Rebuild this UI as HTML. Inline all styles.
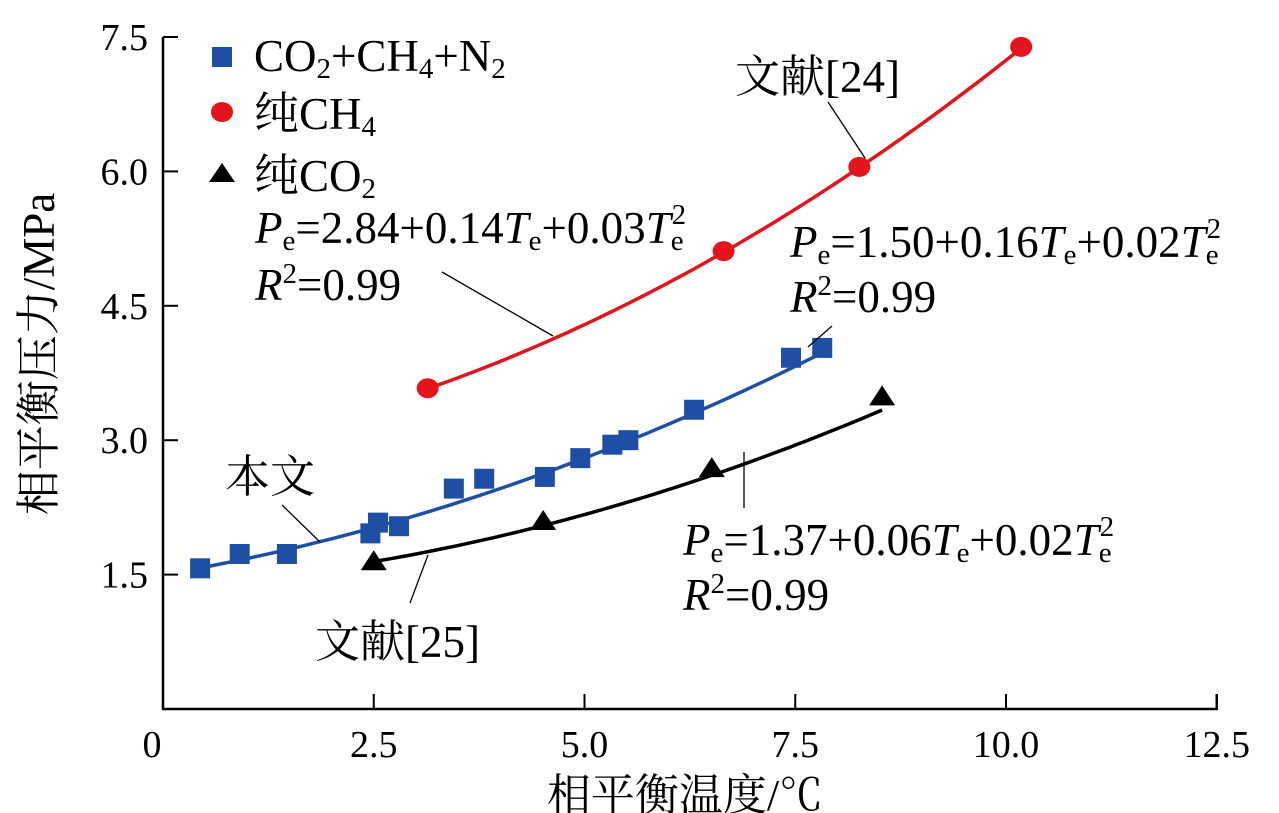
<!DOCTYPE html>
<html><head><meta charset="utf-8"><style>
html,body{margin:0;padding:0;background:#fff}
svg{display:block}
text{font-family:"Liberation Serif","Noto Serif CJK SC",serif;fill:#000}
</style></head><body>
<svg id="chart" width="1279" height="813" viewBox="0 0 1279 813" xmlns="http://www.w3.org/2000/svg">
<g id="axes"></g>
<g id="series"></g>
<g id="annot">
  <text transform="translate(54,354) rotate(-90)" text-anchor="middle" font-size="45">相平衡压力/MPa</text>
  <text x="685" y="810" text-anchor="middle" font-size="44">相平衡温度/℃</text>

  <rect x="212" y="47" width="20" height="20" fill="#1f4fa5"/>
  <text x="254" y="71" font-size="45">CO<tspan font-size="29" dy="7">2</tspan><tspan dy="-7">+CH</tspan><tspan font-size="29" dy="7">4</tspan><tspan dy="-7">+N</tspan><tspan font-size="29" dy="7">2</tspan></text>
  <ellipse cx="222" cy="112" rx="11" ry="10" fill="#e3141c"/>
  <text x="254" y="129" font-size="45">纯CH<tspan font-size="29" dy="7">4</tspan></text>
  <polygon points="209,182 222,163 235,182" fill="#000"/>
  <text x="254" y="191" font-size="45">纯CO<tspan font-size="29" dy="7">2</tspan></text>

  <text x="255" y="243" font-size="45"><tspan font-style="italic">P</tspan><tspan font-size="29" dy="7">e</tspan><tspan dy="-7">=2.84+0.14</tspan><tspan font-style="italic">T</tspan><tspan font-size="29" dy="7">e</tspan><tspan dy="-7">+0.03</tspan><tspan font-style="italic">T</tspan><tspan font-size="29" dy="7">e</tspan><tspan font-size="29" dy="-26" dx="-12">2</tspan></text>
  <text x="255" y="300" font-size="45"><tspan font-style="italic">R</tspan><tspan font-size="29" dy="-17">2</tspan><tspan dy="17">=0.99</tspan></text>
  <line x1="442" y1="272" x2="553" y2="336" stroke="#000" stroke-width="1.3"/>

  <text x="735" y="92" font-size="45">文献[24]</text>
  <line x1="828" y1="102" x2="865" y2="158" stroke="#000" stroke-width="1.3"/>

  <text x="790" y="257" font-size="45"><tspan font-style="italic">P</tspan><tspan font-size="29" dy="7">e</tspan><tspan dy="-7">=1.50+0.16</tspan><tspan font-style="italic">T</tspan><tspan font-size="29" dy="7">e</tspan><tspan dy="-7">+0.02</tspan><tspan font-style="italic">T</tspan><tspan font-size="29" dy="7">e</tspan><tspan font-size="29" dy="-26" dx="-12">2</tspan></text>
  <text x="790" y="312" font-size="45"><tspan font-style="italic">R</tspan><tspan font-size="29" dy="-17">2</tspan><tspan dy="17">=0.99</tspan></text>
  <line x1="808" y1="347" x2="832" y2="326" stroke="#000" stroke-width="1.3"/>

  <text x="683" y="555" font-size="45"><tspan font-style="italic">P</tspan><tspan font-size="29" dy="7">e</tspan><tspan dy="-7">=1.37+0.06</tspan><tspan font-style="italic">T</tspan><tspan font-size="29" dy="7">e</tspan><tspan dy="-7">+0.02</tspan><tspan font-style="italic">T</tspan><tspan font-size="29" dy="7">e</tspan><tspan font-size="29" dy="-26" dx="-12">2</tspan></text>
  <text x="683" y="610" font-size="45"><tspan font-style="italic">R</tspan><tspan font-size="29" dy="-17">2</tspan><tspan dy="17">=0.99</tspan></text>
  <line x1="744" y1="452" x2="744" y2="508" stroke="#000" stroke-width="1.3"/>

  <text x="225" y="492" font-size="45">本文</text>
  <line x1="282" y1="505" x2="320" y2="542" stroke="#000" stroke-width="1.3"/>
  <text x="315" y="657" font-size="45">文献[25]</text>
  <line x1="428" y1="555" x2="410" y2="603" stroke="#000" stroke-width="1.3"/>
</g>
<script>
const xTicks = [0, 2.5, 5.0, 7.5, 10.0, 12.5];
const xTickLabels = ["0", "2.5", "5.0", "7.5", "10.0", "12.5"];
const yTicks = [1.5, 3.0, 4.5, 6.0, 7.5];
const yTickLabels = ["1.5", "3.0", "4.5", "6.0", "7.5"];
const mixT = [0.44, 0.91, 1.47, 2.46, 2.55, 2.80, 3.45, 3.81, 4.53, 4.95, 5.33, 5.52, 6.30, 7.45, 7.82];
const mixP = [1.57, 1.73, 1.73, 1.96, 2.08, 2.04, 2.46, 2.57, 2.59, 2.80, 2.95, 3.00, 3.34, 3.92, 4.03];
const ch4T = [3.14, 6.65, 8.26, 10.18];
const ch4P = [3.58, 5.11, 6.05, 7.39];
const co2T = [2.50, 4.51, 6.51, 8.53];
const co2P = [1.66, 2.11, 2.70, 3.50];
const mixFit = [1.50, 0.16, 0.02];
const ch4Fit = [2.84, 0.14, 0.03];
const co2Fit = [1.37, 0.06, 0.02];

const NS = "http://www.w3.org/2000/svg";
const X0 = 163, XPX = 84.3, Y0 = 709, YPX = 89.6;
function sx(v){ return X0 + v * XPX; }
function sy(v){ return Y0 - v * YPX; }
function mk(tag, attrs, parent){ const e = document.createElementNS(NS, tag); for (const k in attrs) e.setAttribute(k, attrs[k]); parent.appendChild(e); return e; }

const axes = document.getElementById('axes');
const series = document.getElementById('series');
let ax = mk('path', {d: `M${sx(0)},${sy(7.5)} L${sx(0)},${sy(0)} L${sx(12.5)},${sy(0)} L${sx(12.5)},${sy(0)-15}`, fill:'none', stroke:'#000', 'stroke-width':2.5}, axes);


xTicks.forEach((v, i) => {
  if (i > 0 && i < xTicks.length - 1) {
    const t = mk('line', {x1:sx(v), y1:sy(0), x2:sx(v), y2:sy(0)-15, stroke:'#000', 'stroke-width':2}, axes);
    
    
  }
  const l = mk('text', {x: sx(v) + (i === 0 ? -11 : 0), y: 757, 'text-anchor':'middle', 'font-size':38}, axes);
  l.textContent = xTickLabels[i];
  
  
});
yTicks.forEach((v, i) => {
  const t = mk('line', {x1:sx(0), y1:sy(v), x2:sx(0)+15, y2:sy(v), stroke:'#000', 'stroke-width':2}, axes);
  
  
  const l = mk('text', {x: 148, y: sy(v) + 13, 'text-anchor':'end', 'font-size':38}, axes);
  l.textContent = yTickLabels[i];
  
  
});

function fitPath(c, t0, t1){
  let d = '';
  for (let k = 0; k <= 60; k++) {
    const t = t0 + (t1 - t0) * k / 60;
    const p = c[0] + c[1]*t + c[2]*t*t;
    d += (k ? 'L' : 'M') + sx(t).toFixed(1) + ',' + sy(p).toFixed(1);
  }
  return d;
}
function curve(c, ts, color, name){
  const p = mk('path', {d: fitPath(c, Math.min(...ts), Math.max(...ts)), fill:'none', stroke:color, 'stroke-width':3.5}, series);
  
  
}
curve(ch4Fit, ch4T, '#e3141c', 'ch4-fit-curve');
curve(mixFit, mixT, '#1f4fa5', 'mix-fit-curve');
curve(co2Fit, co2T, '#000', 'co2-fit-curve');

mixT.forEach((t, i) => {
  const r = mk('rect', {x: sx(t)-10, y: sy(mixP[i])-10, width:20, height:20, fill:'#1f4fa5'}, series);
  
  
});
ch4T.forEach((t, i) => {
  const c = mk('ellipse', {cx: sx(t), cy: sy(ch4P[i]), rx:11, ry:10, fill:'#e3141c'}, series);
  
  
});
co2T.forEach((t, i) => {
  const x = sx(t), y = sy(co2P[i]);
  const p = mk('polygon', {points: `${x-13},${y+10} ${x},${y-10} ${x+13},${y+10}`, fill:'#000'}, series);
  
  
});
</script>
</svg>
</body></html>
